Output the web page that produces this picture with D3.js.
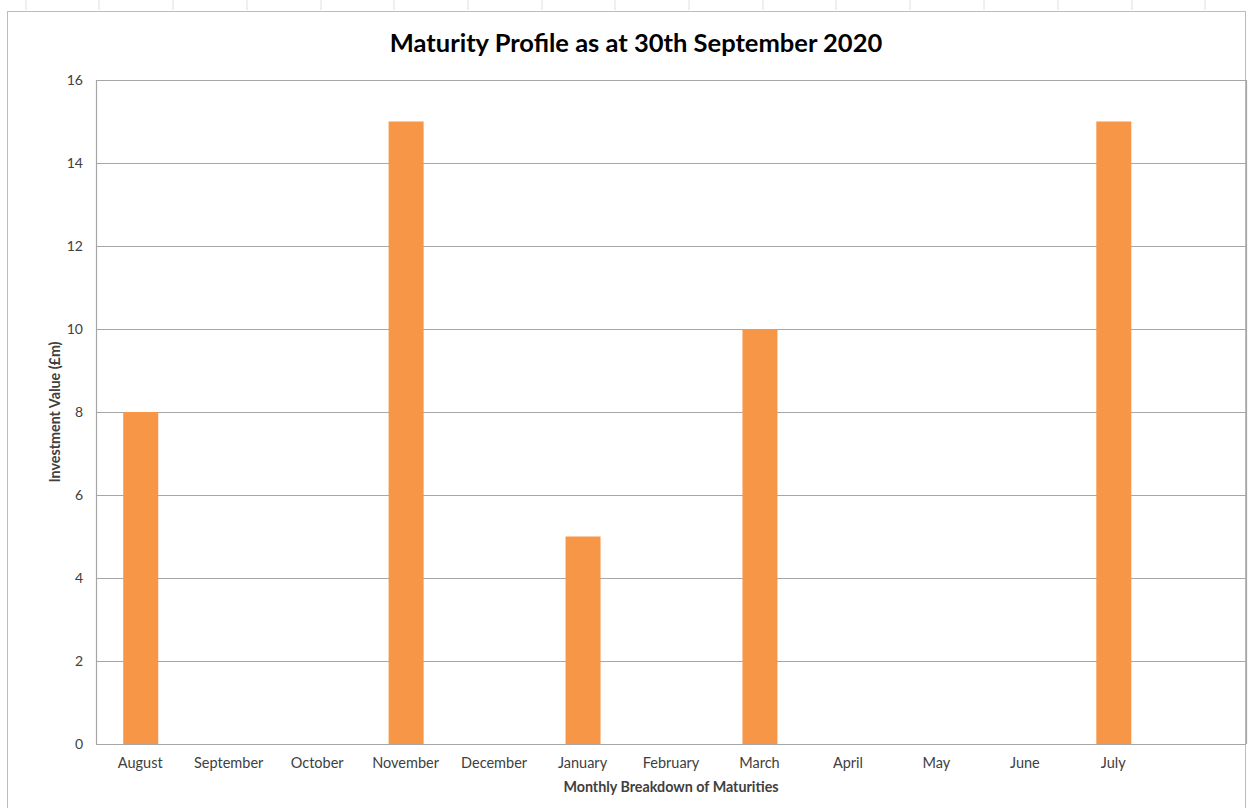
<!DOCTYPE html>
<html><head><meta charset="utf-8">
<script src="https://cdn.jsdelivr.net/npm/d3@7"></script>
<style>body{margin:0;background:#fff;font-family:Lato,"Open Sans",sans-serif;}</style>
</head><body>
<svg id="c" width="1251" height="808"></svg>
<script>
const categories = ["August","September","October","November","December","January","February","March","April","May","June","July",""];
const values = [8,0,0,15,0,5,0,10,0,0,0,15,0];
const yTicks = [0,2,4,6,8,10,12,14,16];
const title = "Maturity Profile as at 30th September 2020";
const xTitle = "Monthly Breakdown of Maturities";
const yTitle = "Investment Value (£m)";

const svg = d3.select("#c");
// spreadsheet column lines at top
const colX = [26,99,173,247,321,394,468,542,615,689,763,836,910,984,1058,1132,1205];
svg.selectAll("line.col").data(colX).enter().append("line")
  .attr("x1",d=>d).attr("x2",d=>d).attr("y1",0).attr("y2",10)
  .attr("stroke","#e0e0e0").attr("stroke-width",1);
// chart border
svg.append("rect").attr("x",7.5).attr("y",11.5).attr("width",1238).attr("height",820)
  .attr("fill","#fff").attr("stroke","#bcbcbc").attr("stroke-width",1);

const m = {left:96, right:1246, top:80, bottom:744};
const x = d3.scaleBand().domain(categories).range([m.left,m.right]).paddingInner(0.6).paddingOuter(0.3);
const y = d3.scaleLinear().domain([0,16]).range([m.bottom,m.top]);

// gridlines
svg.append("g").selectAll("line").data(yTicks).enter().append("line")
  .attr("x1",m.left).attr("x2",m.right).attr("y1",d=>Math.round(y(d))+0.5).attr("y2",d=>Math.round(y(d))+0.5)
  .attr("stroke","#a6a6a6").attr("stroke-width",1.2);
// plot sides
svg.append("line").attr("x1",m.left+0.5).attr("x2",m.left+0.5).attr("y1",m.top).attr("y2",m.bottom)
  .attr("stroke","#a6a6a6").attr("stroke-width",1.2);
svg.append("line").attr("x1",m.right+0.5).attr("x2",m.right+0.5).attr("y1",m.top).attr("y2",m.bottom)
  .attr("stroke","#a6a6a6").attr("stroke-width",1.2);

// bars
svg.append("g").selectAll("rect").data(categories.map((c,i)=>({c,v:values[i]}))).enter().append("rect")
  .attr("x",d=>x(d.c)+x.bandwidth()/2-17).attr("width",35)
  .attr("y",d=>y(d.v)).attr("height",d=>y(0)-y(d.v))
  .attr("fill","#f79646");
// redraw baseline over bars
svg.append("line").attr("x1",m.left).attr("x2",m.right).attr("y1",Math.round(y(0))+0.5).attr("y2",Math.round(y(0))+0.5)
  .attr("stroke","#a6a6a6").attr("stroke-width",1.2);

// y axis labels
const yAxis = d3.axisLeft(y).tickValues(yTicks).tickSize(0).tickPadding(13);
const gy = svg.append("g").attr("transform",`translate(${m.left},0)`).call(yAxis);
gy.select(".domain").remove();
gy.selectAll("text").attr("font-family","Lato, sans-serif").attr("font-size",14).attr("fill","#404040");

// x axis labels
const xAxis = d3.axisBottom(x).tickSize(0).tickPadding(14);
const gx = svg.append("g").attr("transform",`translate(0,${m.bottom})`).call(xAxis);
gx.select(".domain").remove();
gx.selectAll("text").attr("font-family","Lato, sans-serif").attr("font-size",14.5).attr("fill","#404040");

// titles
svg.append("text").attr("x",636).attr("y",52).attr("text-anchor","middle")
  .attr("font-family","Lato, sans-serif").attr("font-weight","bold").attr("font-size",25.5).attr("fill","#000").text(title);
svg.append("text").attr("x",(m.left+m.right)/2).attr("y",792).attr("text-anchor","middle")
  .attr("font-family","Lato, sans-serif").attr("font-weight","bold").attr("font-size",14.3).attr("fill","#404040").text(xTitle);
svg.append("text").attr("transform",`translate(60,${(m.top+m.bottom)/2}) rotate(-90)`).attr("text-anchor","middle")
  .attr("font-family","Lato, sans-serif").attr("font-weight","bold").attr("font-size",14.3).attr("fill","#404040").text(yTitle);
</script>
</body></html>
